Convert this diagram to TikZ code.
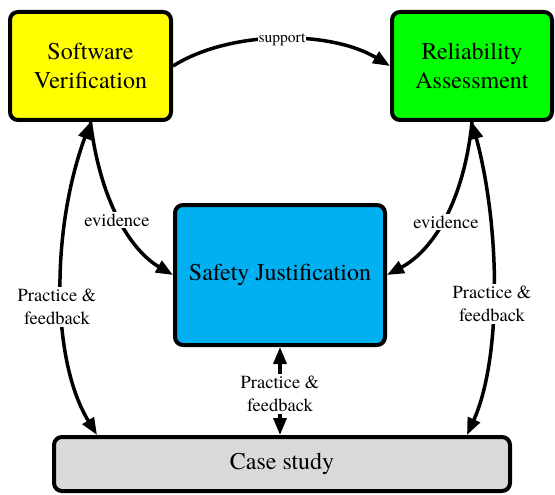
\documentclass[tikz,border=0pt]{standalone}
\usepackage{fontspec}
\setmainfont{texgyretermes-regular.otf}
\usetikzlibrary{arrows.meta,calc}
\definecolor{svyellow}{HTML}{FFFF00}
\definecolor{ragreen}{HTML}{00FF00}
\definecolor{sjblue}{HTML}{00B0F0}
\definecolor{csgray}{HTML}{D9D9D9}
\begin{document}
\begin{tikzpicture}[x=1pt,y=-1pt,
  box/.style={draw=black,line width=4pt,rounded corners=8pt,inner sep=0pt,
    align=center,font=\fontsize{24}{29}\selectfont},
  link/.style={line width=3.5pt,-{Triangle[length=17pt,width=13pt]}},
  twoway/.style={line width=3.5pt,{Triangle[length=17pt,width=13pt]}-{Triangle[length=17pt,width=13pt]}},
  lab/.style={fill=white,inner sep=2pt,align=center,font=\fontsize{18.5}{22.5}\selectfont},
  smalllab/.style={fill=white,inner sep=0.5pt,font=\fontsize{15.5}{18}\selectfont}
]
\useasboundingbox (0,0) rectangle (555,495);

% boxes
\node[box,fill=svyellow,minimum width=161pt,minimum height=108pt] (sv) at (90.5,66) {Software\\Verification};
\node[box,fill=ragreen,minimum width=160pt,minimum height=108pt] (ra) at (472,66) {Reliability\\Assessment};
\node[box,fill=sjblue,minimum width=210pt,minimum height=140pt] (sj) at (280,275) {Safety Justification};
\node[box,fill=csgray,minimum width=456pt,minimum height=54pt] (cs) at (282,464) {Case study};

% connectors
\draw[link] (sv.east) .. controls (230,30) and (330,30) .. (ra.west);
\draw[link] (sv.south) .. controls (100,200) and (130,250) .. (sj.west);
\draw[link] (ra.south) .. controls (464,200) and (434,250) .. (sj.east);
\draw[twoway] (sv.south) .. controls (51,230) and (51,360) .. ($(cs.north west)+(45,0)$);
\draw[twoway] (ra.south) .. controls (501,230) and (501,360) .. ($(cs.north east)+(-45,0)$);
\draw[twoway] (sj.south) -- (sj.south |- cs.north);

% labels
\node[smalllab] (lsup) at (282,40) {support};
\node[lab] (levl) at (117,220) {evidence};
\node[lab] (levr) at (446,222) {evidence};
\node[lab] (lpfl) at (57,307) {Practice \&\\feedback};
\node[lab] (lpfr) at (492,304) {Practice \&\\feedback};
\node[lab] (lpfc) at (280,394) {Practice \&\\feedback};
\end{tikzpicture}
\end{document}
